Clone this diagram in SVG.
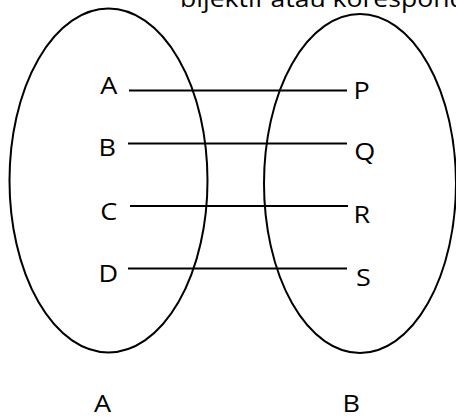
<svg xmlns="http://www.w3.org/2000/svg" width="456" height="417" viewBox="0 0 456 417">
<style>
.set{fill:none;stroke:#000;stroke-width:2}
.ln{stroke:#000;stroke-width:2}
text{font-family:"Open Sans","Liberation Sans",sans-serif;font-size:23.5px;fill:#000}
</style>
<rect width="456" height="417" fill="#fff"/>
<text transform="translate(180 7) scale(1.13 1)">bijektif atau korespondensi</text>
<g id="setA"><ellipse class="set" cx="108.5" cy="180.5" rx="99" ry="172"/></g>
<g id="setB"><ellipse class="set" cx="360" cy="183.5" rx="96" ry="169.5"/></g>
<g id="connectors">
<line class="ln" x1="129" y1="90.5" x2="347" y2="90.5"/>
<line class="ln" x1="128" y1="143.5" x2="347" y2="143.5"/>
<line class="ln" x1="130" y1="206" x2="348" y2="206"/>
<line class="ln" x1="128" y1="268.5" x2="347" y2="268.5"/>
</g>
<g id="nA"><text transform="translate(100.3 94) scale(1.15 1)">A</text></g>
<g id="nB"><text transform="translate(98.6 156.3) scale(1.15 1)">B</text></g>
<g id="nC"><text transform="translate(100.2 220) scale(1.15 1)">C</text></g>
<g id="nD"><text transform="translate(98.4 282) scale(1.15 1)">D</text></g>
<g id="nP"><text transform="translate(353.4 98.5) scale(1.15 1)">P</text></g>
<g id="nQ"><text transform="translate(354.2 159.5) scale(1.15 1)">Q</text></g>
<g id="nR"><text transform="translate(353.4 223) scale(1.15 1)">R</text></g>
<g id="nS"><text transform="translate(356 286) scale(1.15 1)">S</text></g>
<g id="labelA"><text transform="translate(94 411.5) scale(1.15 1)">A</text></g>
<g id="labelB"><text transform="translate(342.4 411.5) scale(1.15 1)">B</text></g>
</svg>
